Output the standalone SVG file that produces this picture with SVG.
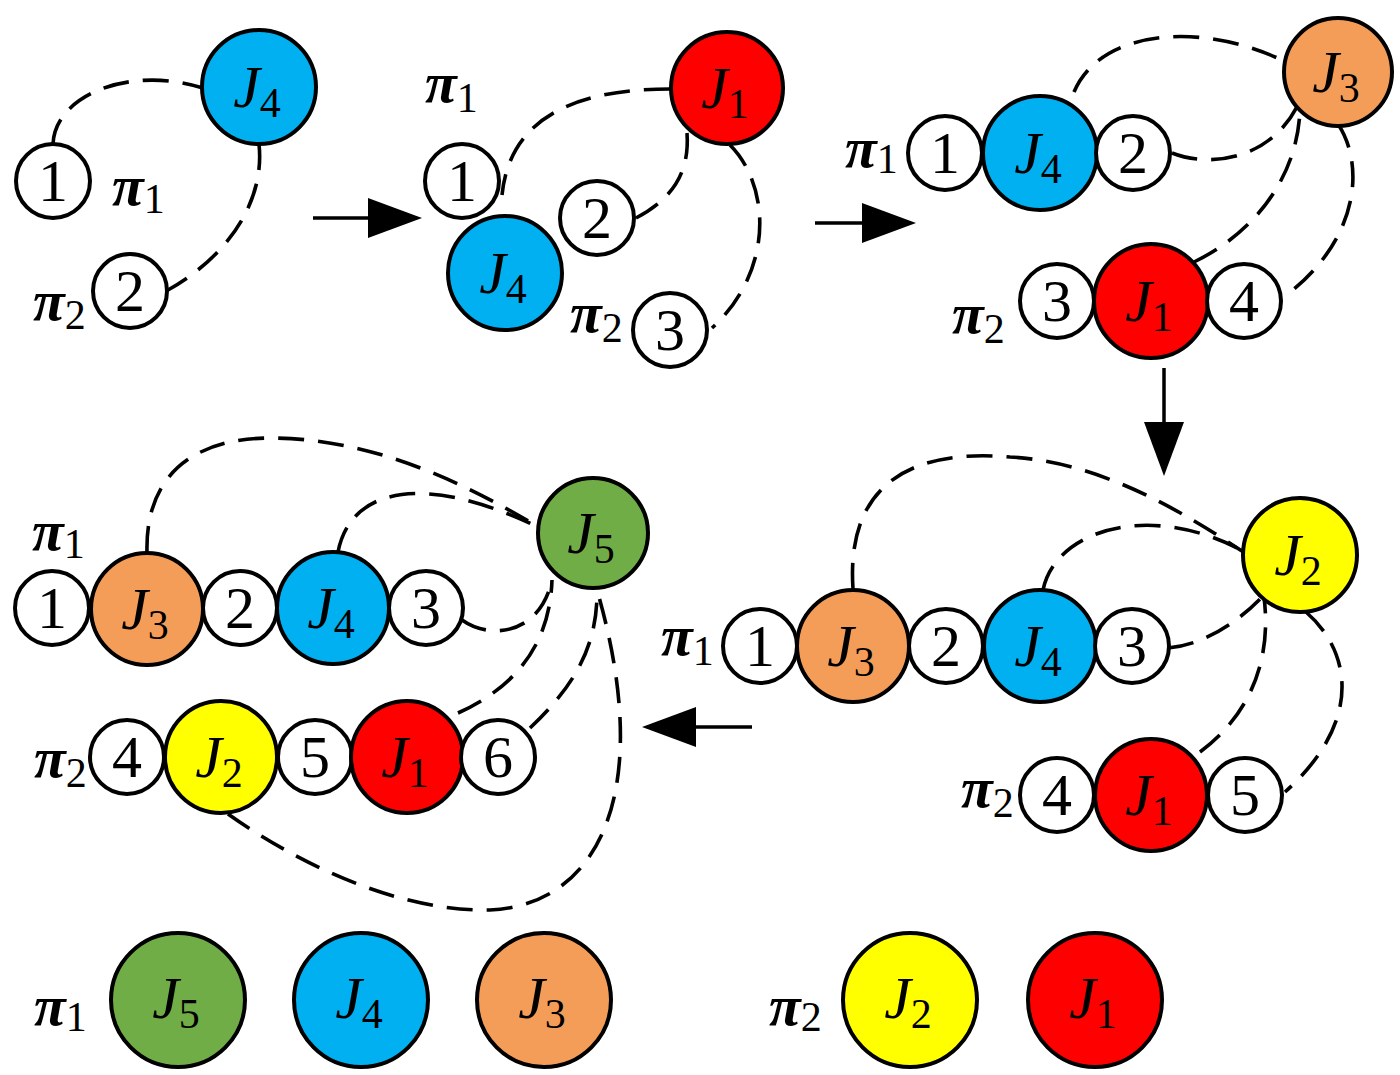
<svg xmlns="http://www.w3.org/2000/svg" width="1400" height="1075" viewBox="0 0 1400 1075">
<style>
.c{stroke:#000;stroke-width:4}
.w{fill:#fff}.bl{fill:#00B0F0}.rd{fill:#FF0000}.or{fill:#F49D59}.gr{fill:#70AD47}.ye{fill:#FFFF00}
.d{fill:none;stroke:#000;stroke-width:3.6;stroke-dasharray:26 14}
.a{stroke:#000;stroke-width:3.5;fill:none}
.n{font-family:"Liberation Serif","Times New Roman",serif;font-size:60px;text-anchor:middle}
.j{font-family:"Liberation Serif","Times New Roman",serif;font-size:60px;font-style:italic;text-anchor:middle}
.s{font-style:normal;font-size:42px}
.p{font-family:"Liberation Serif","Times New Roman",serif;font-size:58px;font-style:italic;font-weight:bold}
.ps{font-style:normal;font-weight:normal;font-size:42px}
</style>
<defs>
<marker id="ah" markerUnits="userSpaceOnUse" markerWidth="54" markerHeight="40" viewBox="0 0 54 40" refX="0" refY="20" orient="auto">
<path d="M0,0 L54,20 L0,40 z" fill="#000"/>
</marker>
</defs>

<g id="connectors">
<path class="d" d="M53 144 C55 95,130 65,203 88"/>
<path class="d" d="M259 144 C265 200,230 255,168 290"/>
<path class="d" d="M670 89 C580 89,510 115,502 195"/>
<path class="d" d="M687 133 C690 175,670 200,636 218"/>
<path class="d" d="M730 145 C770 185,775 270,712 328"/>
<path class="d" d="M1074 92 C1100 30,1200 20,1286 62"/>
<path class="d" d="M1172 153 C1210 168,1270 160,1298 105"/>
<path class="d" d="M1194 262 C1260 230,1300 170,1300 105"/>
<path class="d" d="M1338 124 C1365 165,1360 240,1284 297"/>
<path class="d" d="M853 589 C845 470,930 450,1010 457 C1100 462,1180 510,1245 553"/>
<path class="d" d="M1043 590 C1055 530,1150 500,1245 552"/>
<path class="d" d="M1168 648 C1205 645,1240 620,1262 597"/>
<path class="d" d="M1200 752 C1250 715,1272 660,1264 597"/>
<path class="d" d="M1306 612 C1350 650,1365 720,1285 792"/>
<path class="d" d="M147 552 C145 470,200 438,270 438 C370 438,460 480,540 528"/>
<path class="d" d="M338 552 C350 490,420 470,540 528"/>
<path class="d" d="M462 620 C490 640,540 635,552 580"/>
<path class="d" d="M458 713 C520 685,550 640,552 580"/>
<path class="d" d="M530 728 C570 690,598 650,597 590"/>
<path class="d" d="M228 814 C300 865,400 912,490 910 C600 905,655 790,597 590"/>
<line class="a" x1="313" y1="218" x2="368" y2="218" marker-end="url(#ah)"/>
<line class="a" x1="815" y1="223" x2="862" y2="223" marker-end="url(#ah)"/>
<line class="a" x1="1164" y1="368" x2="1164" y2="422" marker-end="url(#ah)"/>
<line class="a" x1="752" y1="727" x2="696" y2="727" marker-end="url(#ah)"/>
</g>

<g id="p1-J4"><circle class="c bl" cx="259" cy="87" r="57"/><text class="j" x="257" y="107">J<tspan class="s" dy="10">4</tspan></text></g>
<g id="p1-n1"><circle class="c w" cx="53" cy="181" r="37"/><text class="n" x="53" y="201">1</text></g>
<g id="p1-n2"><circle class="c w" cx="130" cy="291" r="37"/><text class="n" x="130" y="311">2</text></g>
<g id="p1-pi1"><text class="p" x="112" y="205">π<tspan class="ps" dy="8">1</tspan></text></g>
<g id="p1-pi2"><text class="p" x="33" y="320">π<tspan class="ps" dy="9">2</tspan></text></g>

<g id="p2-pi1"><text class="p" x="425" y="102">π<tspan class="ps" dy="10">1</tspan></text></g>
<g id="p2-J1"><circle class="c rd" cx="727" cy="88" r="56"/><text class="j" x="725" y="108">J<tspan class="s" dy="10">1</tspan></text></g>
<g id="p2-n1"><circle class="c w" cx="462" cy="181" r="37"/><text class="n" x="462" y="201">1</text></g>
<g id="p2-n2"><circle class="c w" cx="597" cy="218" r="37"/><text class="n" x="597" y="238">2</text></g>
<g id="p2-J4"><circle class="c bl" cx="505" cy="273" r="57"/><text class="j" x="503" y="293">J<tspan class="s" dy="10">4</tspan></text></g>
<g id="p2-n3"><circle class="c w" cx="670" cy="330" r="37"/><text class="n" x="670" y="350">3</text></g>
<g id="p2-pi2"><text class="p" x="570" y="332">π<tspan class="ps" dy="10">2</tspan></text></g>

<g id="p3-J3"><circle class="c or" cx="1338" cy="72" r="54"/><text class="j" x="1336" y="92">J<tspan class="s" dy="10">3</tspan></text></g>
<g id="p3-pi1"><text class="p" x="845" y="167">π<tspan class="ps" dy="6">1</tspan></text></g>
<g id="p3-n1"><circle class="c w" cx="945" cy="153" r="37"/><text class="n" x="945" y="173">1</text></g>
<g id="p3-J4"><circle class="c bl" cx="1040" cy="153" r="57"/><text class="j" x="1038" y="173">J<tspan class="s" dy="10">4</tspan></text></g>
<g id="p3-n2"><circle class="c w" cx="1133" cy="153" r="37"/><text class="n" x="1133" y="173">2</text></g>
<g id="p3-pi2"><text class="p" x="952" y="333">π<tspan class="ps" dy="10">2</tspan></text></g>
<g id="p3-n3"><circle class="c w" cx="1057" cy="301" r="37"/><text class="n" x="1057" y="321">3</text></g>
<g id="p3-J1"><circle class="c rd" cx="1151" cy="301" r="57"/><text class="j" x="1149" y="321">J<tspan class="s" dy="10">1</tspan></text></g>
<g id="p3-n4"><circle class="c w" cx="1244" cy="301" r="37"/><text class="n" x="1244" y="321">4</text></g>

<g id="p4-J2"><circle class="c ye" cx="1300" cy="555" r="57"/><text class="j" x="1298" y="575">J<tspan class="s" dy="10">2</tspan></text></g>
<g id="p4-pi1"><text class="p" x="661" y="655">π<tspan class="ps" dy="10">1</tspan></text></g>
<g id="p4-n1"><circle class="c w" cx="760" cy="646" r="37"/><text class="n" x="760" y="666">1</text></g>
<g id="p4-J3"><circle class="c or" cx="853" cy="646" r="56"/><text class="j" x="851" y="666">J<tspan class="s" dy="10">3</tspan></text></g>
<g id="p4-n2"><circle class="c w" cx="946" cy="646" r="37"/><text class="n" x="946" y="666">2</text></g>
<g id="p4-J4"><circle class="c bl" cx="1040" cy="646" r="56"/><text class="j" x="1038" y="666">J<tspan class="s" dy="10">4</tspan></text></g>
<g id="p4-n3"><circle class="c w" cx="1132" cy="646" r="37"/><text class="n" x="1132" y="666">3</text></g>
<g id="p4-pi2"><text class="p" x="961" y="807">π<tspan class="ps" dy="10">2</tspan></text></g>
<g id="p4-n4"><circle class="c w" cx="1057" cy="795" r="37"/><text class="n" x="1057" y="815">4</text></g>
<g id="p4-J1"><circle class="c rd" cx="1151" cy="795" r="56"/><text class="j" x="1149" y="815">J<tspan class="s" dy="10">1</tspan></text></g>
<g id="p4-n5"><circle class="c w" cx="1245" cy="795" r="37"/><text class="n" x="1245" y="815">5</text></g>

<g id="p5-J5"><circle class="c gr" cx="593" cy="533" r="55"/><text class="j" x="591" y="553">J<tspan class="s" dy="10">5</tspan></text></g>
<g id="p5-pi1"><text class="p" x="32" y="550">π<tspan class="ps" dy="8">1</tspan></text></g>
<g id="p5-n1"><circle class="c w" cx="52" cy="608" r="37"/><text class="n" x="52" y="628">1</text></g>
<g id="p5-J3"><circle class="c or" cx="147" cy="609" r="56"/><text class="j" x="145" y="629">J<tspan class="s" dy="10">3</tspan></text></g>
<g id="p5-n2"><circle class="c w" cx="240" cy="608" r="37"/><text class="n" x="240" y="628">2</text></g>
<g id="p5-J4"><circle class="c bl" cx="333" cy="608" r="56"/><text class="j" x="331" y="628">J<tspan class="s" dy="10">4</tspan></text></g>
<g id="p5-n3"><circle class="c w" cx="426" cy="608" r="37"/><text class="n" x="426" y="628">3</text></g>
<g id="p5-pi2"><text class="p" x="34" y="777">π<tspan class="ps" dy="10">2</tspan></text></g>
<g id="p5-n4"><circle class="c w" cx="127" cy="757" r="37"/><text class="n" x="127" y="777">4</text></g>
<g id="p5-J2"><circle class="c ye" cx="221" cy="757" r="56"/><text class="j" x="219" y="777">J<tspan class="s" dy="10">2</tspan></text></g>
<g id="p5-n5"><circle class="c w" cx="315" cy="757" r="37"/><text class="n" x="315" y="777">5</text></g>
<g id="p5-J1"><circle class="c rd" cx="407" cy="757" r="56"/><text class="j" x="405" y="777">J<tspan class="s" dy="10">1</tspan></text></g>
<g id="p5-n6"><circle class="c w" cx="498" cy="757" r="37"/><text class="n" x="498" y="777">6</text></g>

<g id="r-pi1"><text class="p" x="34" y="1025">π<tspan class="ps" dy="6">1</tspan></text></g>
<g id="r-J5"><circle class="c gr" cx="178" cy="1000" r="67"/><text class="j" x="176" y="1018">J<tspan class="s" dy="10">5</tspan></text></g>
<g id="r-J4"><circle class="c bl" cx="361" cy="1000" r="67"/><text class="j" x="359" y="1018">J<tspan class="s" dy="10">4</tspan></text></g>
<g id="r-J3"><circle class="c or" cx="544" cy="1000" r="67"/><text class="j" x="542" y="1018">J<tspan class="s" dy="10">3</tspan></text></g>
<g id="r-pi2"><text class="p" x="769" y="1025">π<tspan class="ps" dy="6">2</tspan></text></g>
<g id="r-J2"><circle class="c ye" cx="910" cy="1000" r="67"/><text class="j" x="908" y="1018">J<tspan class="s" dy="10">2</tspan></text></g>
<g id="r-J1"><circle class="c rd" cx="1095" cy="1000" r="67"/><text class="j" x="1093" y="1018">J<tspan class="s" dy="10">1</tspan></text></g>
</svg>
